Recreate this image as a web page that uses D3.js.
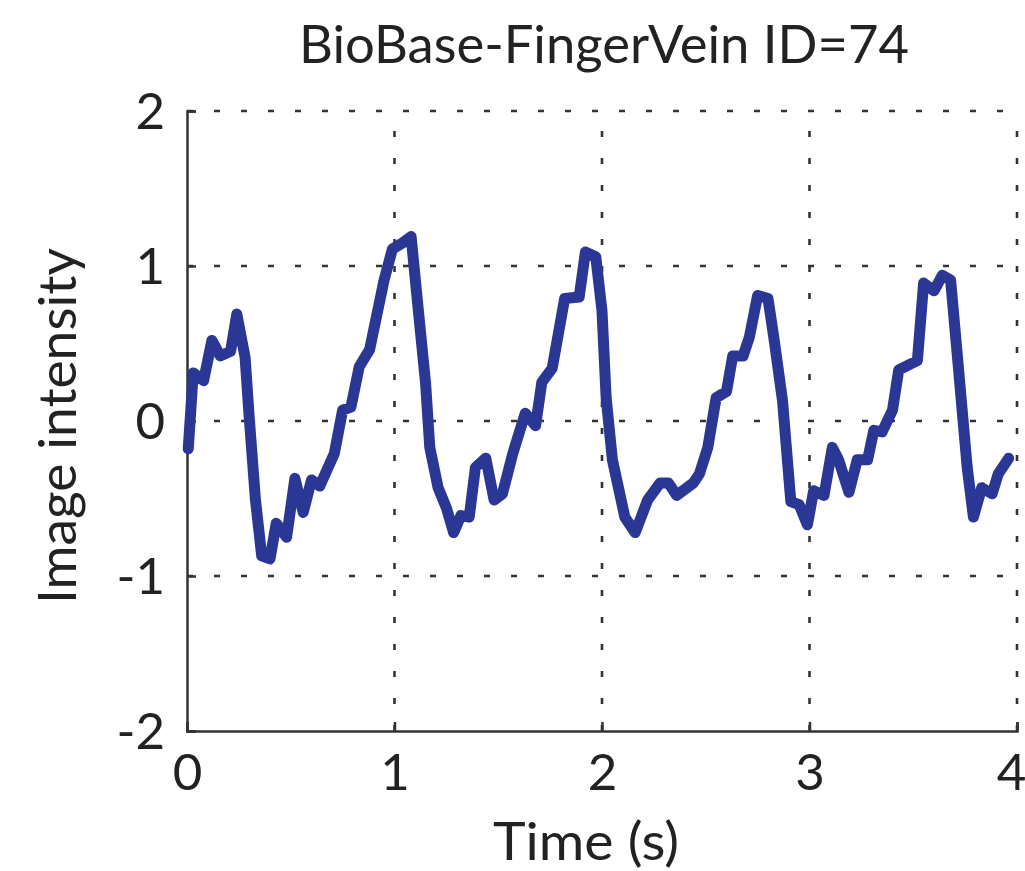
<!DOCTYPE html>
<html lang="en">
  <head>
    <meta charset="UTF-8" />
    <title>BioBase-FingerVein ID=74</title>
    <script src="https://cdn.jsdelivr.net/npm/d3@7"></script>
    <style>
      body { margin: 0; background: #fff; }
      text { font-family: Lato, "Open Sans", sans-serif; fill: #222; }
    </style>
  </head>
  <body>
    <svg id="container" width="1025" height="871"></svg>
    <script>
      // signal: time (s) and normalised intensity
      let times = [0.006, 0.03, 0.08, 0.12, 0.16, 0.21, 0.24, 0.28, 0.30, 0.33, 0.36, 0.40,
        0.43, 0.48, 0.52, 0.56, 0.60, 0.64, 0.71, 0.75, 0.79, 0.83, 0.88, 0.95, 0.99, 1.04,
        1.08, 1.11, 1.15, 1.17, 1.21, 1.25, 1.285, 1.32, 1.36, 1.39, 1.44, 1.48, 1.52, 1.57,
        1.63, 1.68, 1.71, 1.76, 1.82, 1.89, 1.92, 1.97, 2.00, 2.02, 2.05, 2.11, 2.16, 2.22,
        2.28, 2.32, 2.36, 2.44, 2.47, 2.51, 2.55, 2.60, 2.63, 2.68, 2.71, 2.75, 2.80, 2.83,
        2.87, 2.91, 2.95, 2.99, 3.02, 3.07, 3.11, 3.14, 3.19, 3.23, 3.28, 3.31, 3.35, 3.40,
        3.43, 3.52, 3.55, 3.60, 3.64, 3.68, 3.71, 3.76, 3.79, 3.83, 3.88, 3.91, 3.96];
      let intensity = [-0.18, 0.31, 0.26, 0.52, 0.42, 0.45, 0.69, 0.41, 0.02, -0.51, -0.87, -0.89,
        -0.66, -0.75, -0.37, -0.59, -0.38, -0.42, -0.21, 0.07, 0.09, 0.35, 0.46, 0.91, 1.11, 1.15,
        1.19, 0.78, 0.24, -0.17, -0.43, -0.56, -0.72, -0.61, -0.62, -0.30, -0.24, -0.51, -0.47, -0.21,
        0.05, -0.03, 0.25, 0.34, 0.79, 0.80, 1.09, 1.06, 0.71, 0.15, -0.25, -0.62, -0.72, -0.51,
        -0.40, -0.40, -0.48, -0.40, -0.34, -0.17, 0.15, 0.19, 0.42, 0.42, 0.54, 0.81, 0.79, 0.52,
        0.13, -0.52, -0.54, -0.67, -0.45, -0.48, -0.17, -0.25, -0.46, -0.25, -0.25, -0.06, -0.07, 0.07,
        0.33, 0.39, 0.89, 0.84, 0.94, 0.91, 0.46, -0.30, -0.62, -0.43, -0.47, -0.34, -0.24];
      let xTicks = [0, 1, 2, 3, 4];
      let yTicks = [-2, -1, 0, 1, 2];

      let svg = d3.select("#container");
      let plotLeft = 187, plotRight = 1017, plotTop = 111, plotBottom = 731;

      let x = d3.scaleLinear().domain([0, 4]).range([plotLeft, plotRight]);
      let y = d3.scaleLinear().domain([-2, 2]).range([plotBottom, plotTop]);

      // dotted grid (short dashes, long gaps)
      let grid = svg.append("g").attr("stroke", "#333").attr("stroke-width", 2.6)
        .attr("stroke-dasharray", "6,21");
      grid.selectAll(".gx").data(xTicks.slice(1)).enter().append("line")
        .attr("x1", (d) => x(d)).attr("x2", (d) => x(d))
        .attr("y1", plotBottom).attr("y2", plotTop);
      grid.selectAll(".gy").data(yTicks.slice(1)).enter().append("line")
        .attr("x1", plotLeft).attr("x2", plotRight)
        .attr("y1", (d) => y(d)).attr("y2", (d) => y(d));

      // axes with inward ticks
      let xAxis = d3.axisBottom(x).tickValues(xTicks).tickSize(-9).tickPadding(24)
        .tickFormat(d3.format("d"));
      let yAxis = d3.axisLeft(y).tickValues(yTicks).tickSize(-9).tickPadding(22)
        .tickFormat((d) => String(d));

      let gx = svg.append("g").attr("transform", `translate(0,${plotBottom})`).call(xAxis);
      let gy = svg.append("g").attr("transform", `translate(${plotLeft},0)`).call(yAxis);
      for (const g of [gx, gy]) {
        g.select(".domain").attr("stroke", "#333").attr("stroke-width", 2.5);
        g.selectAll(".tick line").attr("stroke", "#333").attr("stroke-width", 2.5);
        g.selectAll(".tick text").style("font-family", "Lato, sans-serif")
          .style("font-size", "51px").attr("fill", "#222");
      }
      gx.selectAll(".tick text").attr("dy", "0.68em").attr("dx", (d) => (d === 4 ? -6 : 0));
      gy.selectAll(".tick text").attr("dy", "0.35em");

      // line
      let line = d3.line().x((d, i) => x(times[i])).y((d) => y(d));
      svg.append("path").datum(intensity)
        .attr("d", line)
        .attr("fill", "none")
        .attr("stroke", "#2b3794")
        .attr("stroke-width", 11)
        .attr("stroke-linejoin", "round")
        .attr("stroke-linecap", "round");

      // labels
      svg.append("text").attr("x", 604).attr("y", 63).attr("text-anchor", "middle")
        .attr("textLength", 610).attr("lengthAdjust", "spacingAndGlyphs")
        .style("font-size", "52px").text("BioBase-FingerVein ID=74");
      svg.append("text").attr("x", 586).attr("y", 860).attr("text-anchor", "middle")
        .attr("textLength", 186).attr("lengthAdjust", "spacingAndGlyphs")
        .style("font-size", "52px").text("Time (s)");
      svg.append("text").attr("transform", "translate(76,426) rotate(-90)")
        .attr("text-anchor", "middle")
        .attr("textLength", 356).attr("lengthAdjust", "spacingAndGlyphs")
        .style("font-size", "52px").text("Image intensity");
    </script>
  </body>
</html>
